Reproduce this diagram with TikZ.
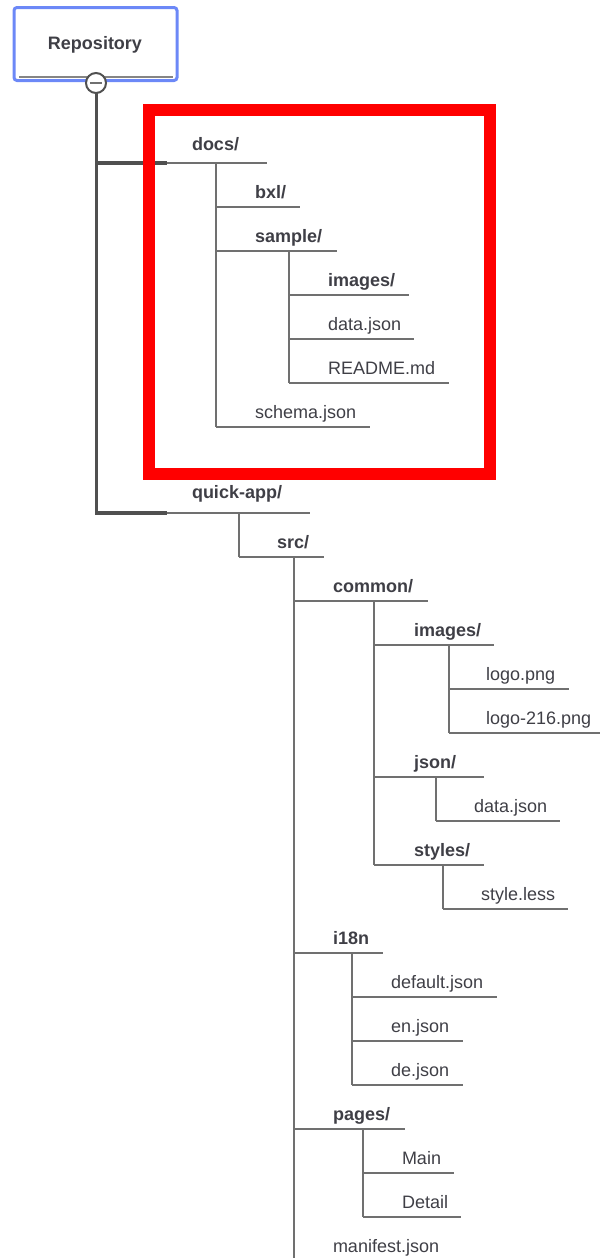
\documentclass[tikz,border=0pt]{standalone}
\usepackage{fontspec}
\setmainfont{Liberation Sans}
\definecolor{txt}{HTML}{3F3F46}
\definecolor{ln}{HTML}{707070}
\definecolor{thick}{HTML}{505050}
\definecolor{blue}{HTML}{6C88F7}
\tikzset{
  label base/.style={anchor=base west,inner sep=0pt,outer sep=0pt,text=txt,font=\fontsize{18}{20}\selectfont},
  folder/.style={label base,font=\fontsize{18}{20}\selectfont\bfseries},
  rule/.style={draw=ln,line width=1.3pt},
  trunk/.style={draw=thick,line width=3.5pt},
}
% [baseline offset], name, text, style, text x, rule y, rule x0, rule x1
\newcommand{\entry}[8][9]{%
  \coordinate (#2-l) at (#7,#6);
  \coordinate (#2-r) at (#8,#6);
  \node[#4] (#2) at (#5,#6-#1) {#3};
  \draw[rule] (#2-l) -- (#2-r);
}
\newcommand{\stem}[3]{%
  \coordinate (#1-s) at (#2,0 |- #1-l);
  \draw[rule] (#2,0 |- #1-l) -- (#2,0 |- #3-l);
}
\begin{document}
\begin{tikzpicture}[x=1pt,y=-1pt]
\useasboundingbox (0,0) rectangle (600,1258);
% root
\node[draw=blue,line width=3pt,rounded corners=3pt,fill=white,minimum width=163pt,minimum height=73pt,inner sep=0pt] (root) at (95.5,44) {};
\node[text=txt,font=\fontsize{18}{20}\selectfont\bfseries,inner sep=0pt] (rootlabel) at (95,44.5) {Repository};
\coordinate (rootrule-l) at (19,77);
\coordinate (rootrule-r) at (173,77);
\draw[draw=ln!85,line width=1.3pt] (rootrule-l) -- (rootrule-r);
% entries
\entry[13]{docs}{docs/}{folder}{192}{163}{167}{267}
\entry{bxl}{bxl/}{folder}{255}{207}{216}{300}
\entry{sample}{sample/}{folder}{255}{251}{216}{337}
\entry{simages}{images/}{folder}{328}{295}{289}{409}
\entry{sdata}{data.json}{label base}{328}{339}{289}{414}
\entry{readme}{README.md}{label base}{328}{383}{289}{449}
\entry{schema}{schema.json}{label base}{255}{427}{216}{370}
\entry[15]{quick}{quick-app/}{folder}{192}{513}{167}{310}
\entry{src}{src/}{folder}{277}{557}{239}{324}
\entry{common}{common/}{folder}{333}{601}{294}{428}
\entry{cimages}{images/}{folder}{414}{645}{374}{494}
\entry{logo}{logo.png}{label base}{486}{689}{449}{569}
\entry{logob}{logo-216.png}{label base}{486}{733}{449}{600}
\entry{json}{json/}{folder}{414}{777}{374}{484}
\entry{jdata}{data.json}{label base}{474}{821}{436}{560}
\entry{styles}{styles/}{folder}{414}{865}{374}{484}
\entry{less}{style.less}{label base}{481}{909}{443}{568}
\entry{itn}{i18n}{folder}{333}{953}{294}{383}
\entry{default}{default.json}{label base}{391}{997}{352}{497}
\entry{en}{en.json}{label base}{391}{1041}{352}{463}
\entry{de}{de.json}{label base}{391}{1085}{352}{463}
\entry{pages}{pages/}{folder}{333}{1129}{294}{405}
\entry{main}{Main}{label base}{402}{1173}{363}{454}
\entry{detail}{Detail}{label base}{402}{1217}{363}{461}
\node[label base] (manifest) at (333,1252) {manifest.json};
\coordinate (src-end) at (294,1258);
% stems
\stem{docs}{216}{schema}
\stem{sample}{289}{readme}
\stem{quick}{239}{src}
\stem{common}{374}{styles}
\stem{cimages}{449}{logob}
\stem{json}{436}{jdata}
\stem{styles}{443}{less}
\stem{itn}{352}{de}
\stem{pages}{363}{detail}
\draw[rule] (294,0 |- src-l) -- (src-end);
% trunk
\coordinate (trunk-top) at (96.5,83);
\draw[trunk] (trunk-top) -- (96.5,0 |- quick-l) -- (quick-l);
\draw[trunk] (96.5,0 |- docs-l) -- (docs-l);
% collapse toggle
\node[circle,draw=thick,line width=2pt,fill=white,minimum size=20pt,inner sep=0pt] (toggle) at (96,83) {};
\coordinate (minus-l) at (90,83);
\coordinate (minus-r) at (102,83);
\draw[draw=ln,line width=2.5pt] (minus-l) -- (minus-r);
% highlight frame
\coordinate (frame-a) at (149,110);
\coordinate (frame-b) at (490,474);
\draw[red,line width=12pt] (frame-a) rectangle (frame-b);
\end{tikzpicture}
\end{document}
